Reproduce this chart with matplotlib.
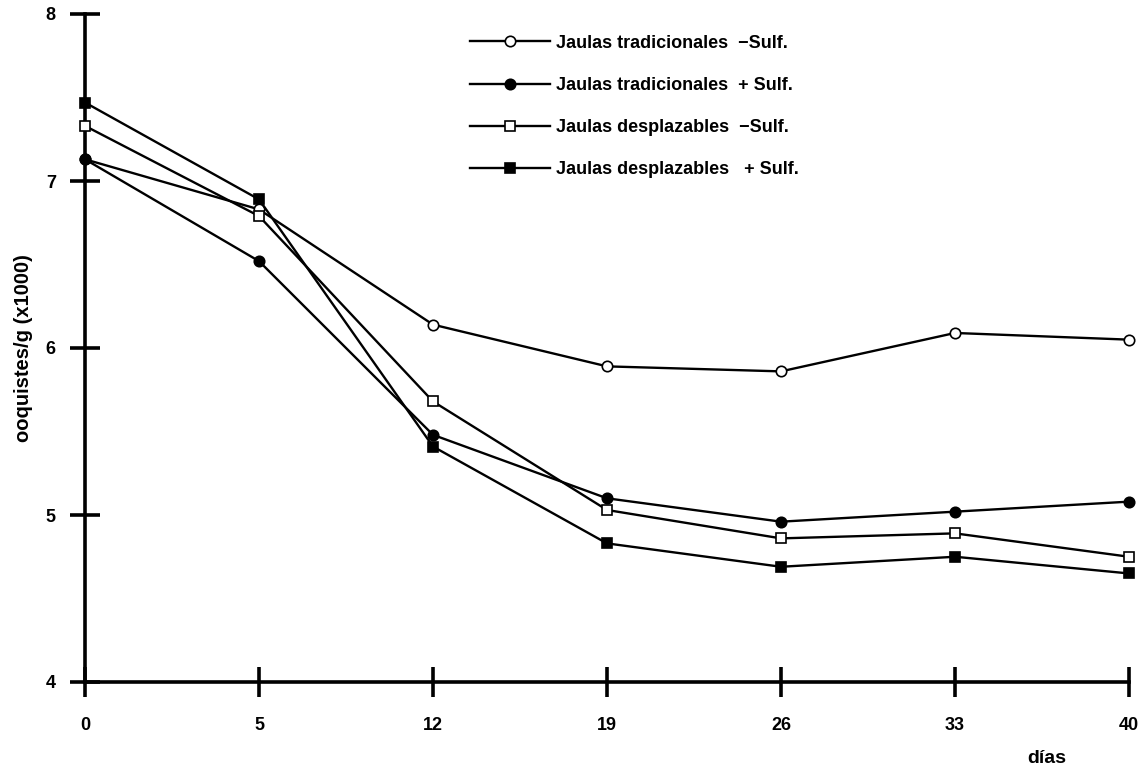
import matplotlib
matplotlib.use("Agg")
import matplotlib.pyplot as plt
import numpy as np

plt.rcParams["font.family"] = ["Liberation Sans", "DejaVu Sans"]
plt.rcParams["font.weight"] = "bold"

DAYS = ["0", "5", "12", "19", "26", "33", "40"]

# ooquistes/g (x1000)
trad_minus = [7.13, 6.83, 6.14, 5.89, 5.86, 6.09, 6.05]
trad_plus = [7.13, 6.52, 5.48, 5.10, 4.96, 5.02, 5.08]
despl_minus = [7.33, 6.79, 5.68, 5.03, 4.86, 4.89, 4.75]
despl_plus = [7.47, 6.89, 5.41, 4.83, 4.69, 4.75, 4.65]

LABELS = [
    "Jaulas tradicionales  \u2212Sulf.",
    "Jaulas tradicionales  + Sulf.",
    "Jaulas desplazables  \u2212Sulf.",
    "Jaulas desplazables   + Sulf.",
]


def main():
    fig = plt.figure(figsize=(11.47, 7.69), dpi=100)
    ax = fig.add_axes([85 / 1147, 87 / 769, 1044 / 1147, 668 / 769])

    x = np.arange(len(DAYS))
    styles = [("o", "white"), ("o", "black"), ("s", "white"), ("s", "black")]
    data = [trad_minus, trad_plus, despl_minus, despl_plus]
    for values, (marker, face), label in zip(data, styles, LABELS):
        ax.plot(x, values, color="black", linewidth=1.7, marker=marker,
                markersize=7.5, markerfacecolor=face, markeredgecolor="black",
                markeredgewidth=1.2, clip_on=False, zorder=3, label=label)

    ax.set_xlim(0, len(DAYS) - 1)
    ax.set_ylim(4, 8)
    ax.set_xticks(x)
    ax.set_xticklabels(DAYS)
    ax.set_yticks([4, 5, 6, 7, 8])

    for side in ("top", "right"):
        ax.spines[side].set_visible(False)
    for side in ("left", "bottom"):
        ax.spines[side].set_linewidth(2.6)
    ax.tick_params(axis="both", direction="inout", length=22, width=2.6,
                   labelsize=13)
    ax.tick_params(axis="x", pad=14)
    ax.tick_params(axis="y", pad=10)

    ax.set_ylabel("ooquistes/g (x1000)", fontsize=14.5, fontweight="bold")
    ax.yaxis.set_label_coords(-0.050, 0.5)
    ax.text(0.921, -0.114, "días", transform=ax.transAxes, ha="center",
            va="center", fontsize=14, fontweight="bold")

    leg = ax.legend(loc="upper left", bbox_to_anchor=(0.362, 0.980),
                    frameon=False, handlelength=4.43, handletextpad=0.33,
                    labelspacing=1.40, fontsize=13, borderaxespad=0)
    for t in leg.get_texts():
        t.set_fontweight("bold")

    fig.savefig("out.png", dpi=100)
    plt.close(fig)


if __name__ == "__main__":
    main()
